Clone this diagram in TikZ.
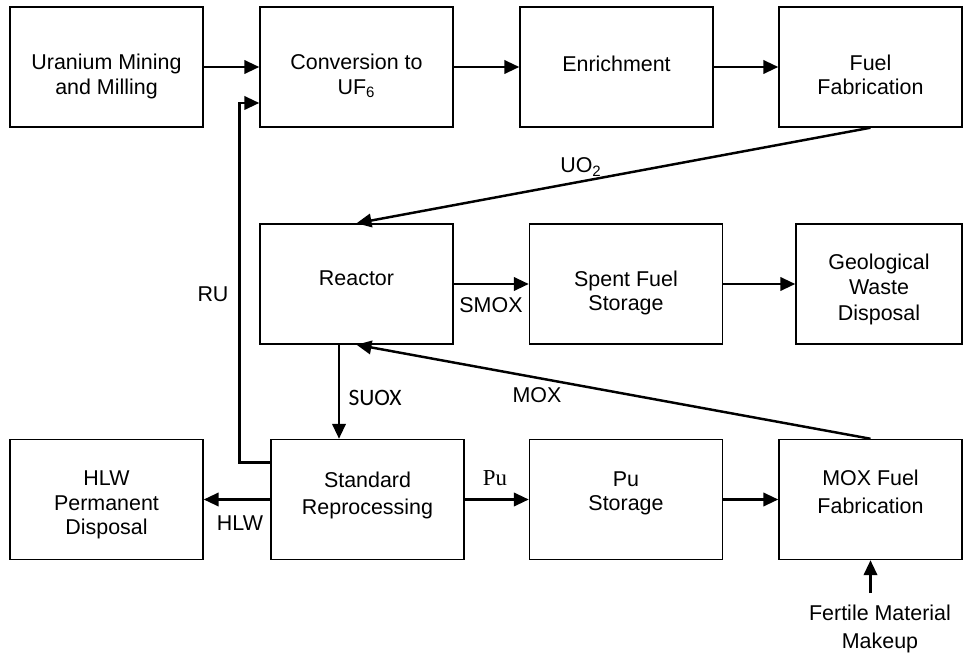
\documentclass[tikz,border=0pt]{standalone}
\usepackage{fontspec}
\setmainfont{Liberation Sans}
\newfontfamily\calibrifont{Carlito}
\newfontfamily\romanfont{Liberation Serif}
\usetikzlibrary{arrows.meta}
% box text, raised or lowered without changing its size
\newcommand{\lift}[2]{\raisebox{#1}[\height][\depth]{\begin{tabular}{@{}c@{}}#2\end{tabular}}}

\begin{document}
\begin{tikzpicture}[x=0.02cm, y=-0.02cm, >={Triangle[length=0.3cm,width=0.27cm]},
  block/.style={draw, line width=0.85pt, minimum width=3.86cm, minimum height=2.4cm,
    inner sep=0pt, font=\fontsize{12.2}{13.9}\selectfont},
  flow/.style={line width=1.4pt},
  lbl/.style={inner sep=0pt, font=\fontsize{12.2}{13.9}\selectfont}]
\useasboundingbox (0,0) rectangle (964,655);
\node[block] (mining) at (106.5,67) {\lift{-5.7pt}{Uranium Mining\\and Milling}};
\node[block] (conv) at (356.5,67) {\lift{-5.7pt}{Conversion to\\UF\textsubscript{6}}};
\node[block] (enrich) at (616.5,67) {\lift{0.5pt}{Enrichment}};
\node[block, minimum width=3.66cm] (fab) at (870.5,67) {\lift{-6.2pt}{Fuel\\Fabrication}};
\node[block] (reactor) at (356.5,284) {\lift{1.7pt}{Reactor}};
\node[block] (spent) at (626,284) {\lift{-5.6pt}{Spent Fuel\\Storage}};
\node[block, minimum width=3.32cm] (geo) at (879,284) {\lift{-3.4pt}{Geological\\[0.6pt]Waste\\[0.6pt]Disposal}};
\node[block] (hlw) at (106.5,499.5) {\lift{-3.4pt}{HLW\\Permanent\\Disposal}};
\node[block] (repro) at (367.5,499.5) {\lift{1.7pt}{Standard\\[1.5pt]Reprocessing}};
\node[block] (pustor) at (626,499.5) {\lift{3.4pt}{Pu\\Storage}};
\node[block, minimum width=3.66cm] (moxfab) at (870.5,499.5) {\lift{2.8pt}{MOX Fuel\\[2.5pt]Fabrication}};
\node[lbl, align=center, font=\fontsize{12.2}{15.5}\selectfont] (fertile) at (880,629) {Fertile Material\\Makeup};

\draw[flow,->] (mining) -- (conv);
\draw[flow,->] (conv) -- (enrich);
\draw[flow,->] (enrich) -- (fab);
\draw[flow,->] (fab.south) -- (reactor.north);
\draw[flow,->] (reactor) -- (spent);
\draw[flow,->] (spent) -- (geo);
\draw[flow,->] ([xshift=-0.35cm]reactor.south) -- ([xshift=-0.35cm]reactor.south |- repro.north);
\draw[flow,->] (moxfab.north) -- (reactor.south);
\draw[flow,->] ([yshift=0.74cm]repro.west) -- ++(-0.62cm,0) |- ([yshift=-0.72cm]conv.west);
\draw[flow,->] (repro) -- (hlw);
\draw[flow,->] (repro) -- (pustor);
\draw[flow,->] (pustor) -- (moxfab);
\coordinate (makeup) at ([yshift=0.24cm]fertile.north);
\draw[flow,->] (makeup -| moxfab.south) -- (moxfab.south);

\node[lbl] (uo2) at (581,167) {UO\textsubscript{2}};
\node[lbl] (ru) at (213,294) {RU};
\node[lbl] (smox) at (491,305) {SMOX};
\node[lbl, font=\calibrifont\fontsize{13.4}{16}\selectfont] (suox) at (375,398) {SUOX};
\node[lbl] (mox) at (537,395) {MOX};
\node[lbl] (hlwlbl) at (240,523) {HLW};
\node[lbl, font=\romanfont\fontsize{13}{15}\selectfont] (pu) at (495,478) {Pu};
\end{tikzpicture}
\end{document}
